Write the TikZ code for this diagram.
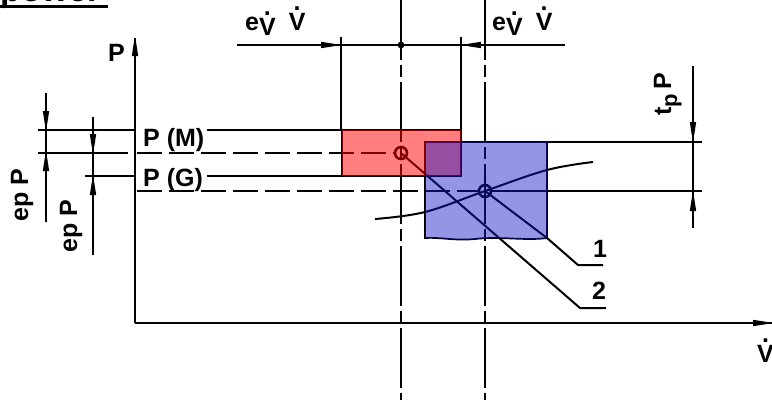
\documentclass[tikz,border=0pt]{standalone}
\usepackage{fontspec}
\setmainfont{Liberation Sans}
\usetikzlibrary{arrows.meta}
\definecolor{redfill}{RGB}{255,0,0}
\definecolor{bluefill}{RGB}{20,20,200}
\newcommand{\Vd}{\ooalign{V\cr\hidewidth\raisebox{0.78em}{.}\hidewidth\cr}}
% arrowheads: x, tip-y  (vertical)  /  tip-x, y (horizontal)
\newcommand{\ahdown}[2]{\fill (#1-3.2,#2-13) -- (#1+3.2,#2-13) -- (#1+1.2,#2) -- (#1-1.2,#2) -- cycle;}
\newcommand{\ahup}[2]{\fill (#1-3.2,#2+13) -- (#1+3.2,#2+13) -- (#1+1.2,#2) -- (#1-1.2,#2) -- cycle;}
\newcommand{\ahright}[2]{\fill (#1-13,#2-3.2) -- (#1-13,#2+3.2) -- (#1,#2+1.2) -- (#1,#2-1.2) -- cycle;}
\newcommand{\ahleft}[2]{\fill (#1+13,#2-3.2) -- (#1+13,#2+3.2) -- (#1,#2+1.2) -- (#1,#2-1.2) -- cycle;}
\tikzset{
  ln/.style={line width=1.7pt, black},
  axisln/.style={line width=2pt, black},
  chainln/.style={ln, dash pattern=on 60pt off 5pt on 12pt off 5pt},
  dashln/.style={ln, dash pattern=on 25pt off 7pt},
  lbl/.style={font=\fontsize{25}{27}\selectfont\bfseries, inner sep=0pt},
  ring/.style={line width=2.6pt, black},
}
\begin{document}
\begin{tikzpicture}[x=1pt,y=-1pt]
\useasboundingbox (0,0) rectangle (772,400);
% heading (cut off)
\node[font=\fontsize{34}{36}\selectfont\bfseries, inner sep=0pt, anchor=base west] (title) at (0,1) {power};
\draw[line width=2.4pt] (0,6.5) -- (108,6.5);

% key points
\coordinate (rc) at (401,153);
\coordinate (bc) at (485,191);

% axes
\draw[axisln] (135,323) -- (135,38);
\ahup{135}{43}
\draw[axisln] (135,323) -- (772,323);
\ahright{766}{323}
\node[lbl, anchor=base west] (Plab) at (108,61) {P};
\node[lbl, anchor=base west] (Vlab) at (757,362) {\Vd};

% chain lines through the centres
\draw[chainln] (401,0) -- (401,400);
\draw[chainln] (485,0) -- (485,400);

% horizontal extension lines
\draw[ln] (38,130) -- (135,130);
\draw[ln] (207,130) -- (342,130);
\draw[ln] (38,153) -- (128,153);
\draw[dashln] (137,153) -- (394,153);
\draw[ln] (85,176) -- (135,176);
\draw[ln] (207,176) -- (342,176);
\draw[dashln] (137,191) -- (478,191);
\draw[ln] (492,191) -- (702,191);
\draw[ln] (547,142) -- (702,142);
\node[lbl, anchor=base west] (PM) at (143,146) {P (M)};
\node[lbl, anchor=base west] (PG) at (143,186) {P (G)};

% top dimension
\draw[ln] (237,45) -- (565,45);
\draw[ln] (341,37) -- (341,130);
\draw[ln] (461,37) -- (461,130);
\fill (401,45) circle (3.4);
\ahright{334}{45}
\ahleft{468}{45}
\node[lbl, anchor=base west] (ev1) at (245,30) {e\raisebox{-5pt}{\Vd}\hspace{13pt}\Vd};
\node[lbl, anchor=base west] (ev2) at (492,30) {e\raisebox{-5pt}{\Vd}\hspace{13pt}\Vd};

% left dimensions
\draw[ln] (46,93) -- (46,222);
\ahdown{46}{124}
\ahup{46}{158}
\draw[ln] (93,117) -- (93,255);
\ahdown{93}{147}
\ahup{93}{182}
\node[lbl, rotate=90, anchor=base west] (ep1) at (28,222) {ep P};
\node[lbl, rotate=90, anchor=base west] (ep2) at (77,253) {ep P};

% right dimension
\draw[ln] (693,66) -- (693,228);
\ahdown{693}{135}
\ahup{693}{198}
\node[lbl, rotate=90, anchor=base west] (tp) at (671,116) {t\raisebox{-6pt}{\fontsize{22}{24}\selectfont\bfseries p}\hspace{5pt}P};

% characteristic curve
\draw[ln, line width=2pt] plot[smooth, tension=0.6] coordinates {(375,219) (425,212) (485,191) (547,170) (593,162)};

% leaders
\draw[ln, line width=2pt] (bc) -- (547,238) -- (578,265) -- (603,265);
\draw[ln, line width=2pt] (rc) -- (580,308) -- (606,308);
\node[lbl, anchor=base west] (n1) at (593,257) {1};
\node[lbl, anchor=base west] (n2) at (592,299) {2};

% centre marks
\draw[ring] (rc) circle (6);
\draw[ring] (bc) circle (6);

% tolerance boxes: outline then translucent fill
\draw[ln] (342,130) rectangle (461,176);
\draw[ln] (425,142) -- (547,142) -- (547,238)
  .. controls (525,241) and (500,236) .. (475,239)
  .. controls (455,241) and (440,237) .. (425,238) -- cycle;
\fill[redfill, opacity=0.5] (342,130) rectangle (461,176);
\fill[bluefill, opacity=0.45] (425,142) -- (547,142) -- (547,238)
  .. controls (525,241) and (500,236) .. (475,239)
  .. controls (455,241) and (440,237) .. (425,238) -- cycle;
\end{tikzpicture}
\end{document}
